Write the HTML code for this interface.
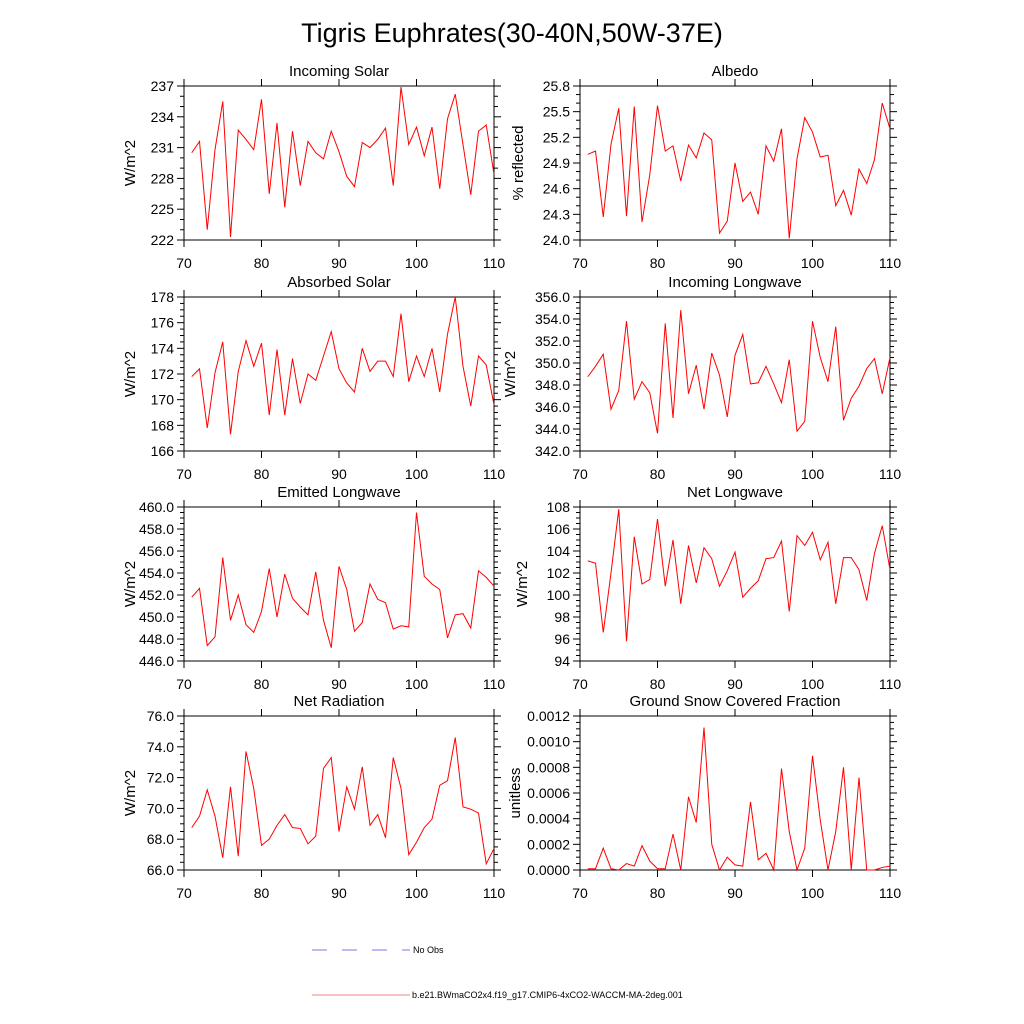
<!DOCTYPE html>
<html><head><meta charset="utf-8"><style>
html,body{margin:0;padding:0;background:#fff;}
svg{display:block;font-family:"Liberation Sans",sans-serif;}
</style></head><body>
<svg id="chart" width="1024" height="1024" viewBox="0 0 1024 1024" xmlns="http://www.w3.org/2000/svg">
<text x="512" y="42" text-anchor="middle" font-size="27">Tigris Euphrates(30-40N,50W-37E)</text>
<g>
<line x1="312" y1="950" x2="410" y2="950" stroke="#7777ee" stroke-width="1" stroke-dasharray="15,15"/>
<text x="413" y="953" font-size="9">No Obs</text>
<line x1="312" y1="995" x2="410" y2="995" stroke="#f08080" stroke-width="1"/>
<text x="412" y="998" font-size="9">b.e21.BWmaCO2x4.f19_g17.CMIP6-4xCO2-WACCM-MA-2deg.001</text>
</g>
</svg>
<script>
const years = [];
for (let y = 71; y <= 110; y++) years.push(y);
const xTicks = [70, 80, 90, 100, 110];
const incomingSolar = [230.5,231.6,223.0,230.8,235.5,222.3,232.7,231.8,230.8,235.7,226.5,233.4,225.2,232.6,227.3,231.6,230.5,229.9,232.6,230.6,228.2,227.2,231.5,231.0,231.8,232.9,227.3,236.9,231.3,233.0,230.2,233.0,227.0,233.8,236.2,231.3,226.4,232.6,233.2,228.4];
const albedo = [25.00,25.04,24.27,25.12,25.54,24.28,25.56,24.21,24.76,25.57,25.04,25.10,24.69,25.11,24.96,25.25,25.17,24.08,24.22,24.90,24.45,24.56,24.30,25.10,24.92,25.30,24.02,24.95,25.43,25.26,24.97,24.99,24.40,24.58,24.29,24.83,24.66,24.94,25.60,25.30];
const absorbedSolar = [171.8,172.4,167.8,172.1,174.5,167.3,172.2,174.6,172.6,174.4,168.8,173.9,168.8,173.2,169.7,172.0,171.5,173.4,175.3,172.4,171.3,170.6,174.0,172.2,173.0,173.0,171.8,176.7,171.4,173.4,171.8,174.0,170.6,175.1,178.0,172.6,169.5,173.4,172.7,169.6];
const incomingLW = [348.75,349.7,350.8,345.8,347.5,353.8,346.7,348.3,347.3,343.6,353.6,345.0,354.8,347.2,349.8,345.8,350.9,348.9,345.1,350.7,352.6,348.1,348.2,349.7,348.1,346.4,350.3,343.8,344.7,353.8,350.5,348.3,353.3,344.8,346.8,347.9,349.5,350.4,347.2,350.5];
const emittedLW = [451.8,452.6,447.4,448.2,455.4,449.7,452.0,449.3,448.6,450.5,454.4,450.0,453.9,451.7,450.9,450.2,454.1,449.7,447.2,454.6,452.5,448.7,449.5,453.0,451.6,451.3,448.9,449.2,449.1,459.5,453.7,453.0,452.5,448.1,450.2,450.3,449.0,454.2,453.6,452.8];
const netLW = [103.1,102.9,96.6,102.0,107.8,95.8,105.3,101.0,101.4,106.9,100.8,105.0,99.2,104.5,101.1,104.3,103.3,100.8,102.2,103.9,99.8,100.6,101.3,103.3,103.4,104.9,98.5,105.4,104.5,105.7,103.2,104.8,99.2,103.4,103.4,102.3,99.5,103.8,106.3,102.3];
const netRadiation = [68.75,69.5,71.2,69.5,66.8,71.4,66.9,73.7,71.3,67.6,68.0,68.9,69.6,68.75,68.7,67.7,68.2,72.6,73.3,68.5,71.4,69.95,72.7,68.9,69.6,68.1,73.3,71.3,67.0,67.8,68.75,69.3,71.5,71.8,74.6,70.1,69.95,69.7,66.4,67.4];
const snowFraction = [0.00001,0.00001,0.00017,0.00001,0,0.00005,0.00003,0.00019,0.00007,0.00001,0.00001,0.00028,0,0.00057,0.00037,0.00111,0.0002,0,0.0001,0.00004,0.00003,0.00053,0.00008,0.00013,0,0.00079,0.0003,0,0.00017,0.00089,0.00039,0,0.0003,0.0008,0,0.00072,0,0,0.00002,0.00003];
const ticksIS = ["222","225","228","231","234","237"];
const ticksAlb = ["24.0","24.3","24.6","24.9","25.2","25.5","25.8"];
const ticksAS = ["166","168","170","172","174","176","178"];
const ticksILW = ["342.0","344.0","346.0","348.0","350.0","352.0","354.0","356.0"];
const ticksELW = ["446.0","448.0","450.0","452.0","454.0","456.0","458.0","460.0"];
const ticksNLW = ["94","96","98","100","102","104","106","108"];
const ticksNR = ["66.0","68.0","70.0","72.0","74.0","76.0"];
const ticksSnow = ["0.0000","0.0002","0.0004","0.0006","0.0008","0.0010","0.0012"];

const NS = "http://www.w3.org/2000/svg";
const svg = document.getElementById('chart');
function mk(tag, attrs, parent) {
  const e = document.createElementNS(NS, tag);
  for (const k in attrs) e.setAttribute(k, attrs[k]);
  parent.appendChild(e);
  return e;
}
const panels = [
  {id:'incoming-solar', title:'Incoming Solar', ylab:'W/m^2', data:incomingSolar, ticks:ticksIS, minor:3, x0:184, y0:86, lo:49},
  {id:'albedo', title:'Albedo', ylab:'% reflected', data:albedo, ticks:ticksAlb, minor:3, x0:580, y0:86, lo:57},
  {id:'absorbed-solar', title:'Absorbed Solar', ylab:'W/m^2', data:absorbedSolar, ticks:ticksAS, minor:4, x0:184, y0:297, lo:49},
  {id:'incoming-longwave', title:'Incoming Longwave', ylab:'W/m^2', data:incomingLW, ticks:ticksILW, minor:4, x0:580, y0:297, lo:65},
  {id:'emitted-longwave', title:'Emitted Longwave', ylab:'W/m^2', data:emittedLW, ticks:ticksELW, minor:4, x0:184, y0:507, lo:49},
  {id:'net-longwave', title:'Net Longwave', ylab:'W/m^2', data:netLW, ticks:ticksNLW, minor:4, x0:580, y0:507, lo:53},
  {id:'net-radiation', title:'Net Radiation', ylab:'W/m^2', data:netRadiation, ticks:ticksNR, minor:4, x0:184, y0:716, lo:49},
  {id:'snow-fraction', title:'Ground Snow Covered Fraction', ylab:'unitless', data:snowFraction, ticks:ticksSnow, minor:4, x0:580, y0:716, lo:60}
];
const W = 310, H = 154;
panels.forEach(p => {
  const g = mk('g', {}, svg);
  
  
  const ymin = parseFloat(p.ticks[0]), ymax = parseFloat(p.ticks[p.ticks.length-1]);
  const xs = v => p.x0 + (v - 70) / 40 * W;
  const ys = v => p.y0 + H - (v - ymin) / (ymax - ymin) * H;
  const t = mk('text', {x: p.x0 + W/2, y: p.y0 - 10, 'text-anchor':'middle', 'font-size':15}, g);
  t.textContent = p.title;
  
  
  const r = mk('rect', {x:p.x0, y:p.y0, width:W, height:H, fill:'none', stroke:'#000', 'stroke-width':1}, g);
  
  
  const n = p.ticks.length;
  for (let i = 0; i < n; i++) {
    const v = parseFloat(p.ticks[i]);
    const y = ys(v);
    mk('line', {x1:p.x0-7, y1:y, x2:p.x0, y2:y, stroke:'#000'}, g);
    mk('line', {x1:p.x0+W, y1:y, x2:p.x0+W+7, y2:y, stroke:'#000'}, g);
    const tl = mk('text', {x:p.x0-10, y:y+5, 'text-anchor':'end', 'font-size':14}, g);
    tl.textContent = p.ticks[i];
    
    
    if (i < n-1) {
      const step = (parseFloat(p.ticks[i+1]) - v) / p.minor;
      for (let k = 1; k < p.minor; k++) {
        const yy = ys(v + k*step);
        mk('line', {x1:p.x0-4, y1:yy, x2:p.x0, y2:yy, stroke:'#000'}, g);
        mk('line', {x1:p.x0+W, y1:yy, x2:p.x0+W+4, y2:yy, stroke:'#000'}, g);
      }
    }
  }
  xTicks.forEach(v => {
    const x = xs(v);
    mk('line', {x1:x, y1:p.y0+H, x2:x, y2:p.y0+H+7, stroke:'#000'}, g);
    mk('line', {x1:x, y1:p.y0-7, x2:x, y2:p.y0, stroke:'#000'}, g);
    const tl = mk('text', {x:x, y:p.y0+H+28, 'text-anchor':'middle', 'font-size':14}, g);
    tl.textContent = String(v);
    
    
  });
  const lx = p.x0 - p.lo, ly = p.y0 + H/2;
  const yl = mk('text', {x:lx, y:ly, 'text-anchor':'middle', 'font-size':15, transform:'rotate(-90 '+lx+' '+ly+')'}, g);
  yl.textContent = p.ylab;
  
  
  const pts = p.data.map((v, i) => xs(years[i]).toFixed(2) + ',' + ys(v).toFixed(2)).join(' ');
  const pl = mk('polyline', {points:pts, fill:'none', stroke:'#ff0000', 'stroke-width':1}, g);
  
  
});
</script>
</body></html>
